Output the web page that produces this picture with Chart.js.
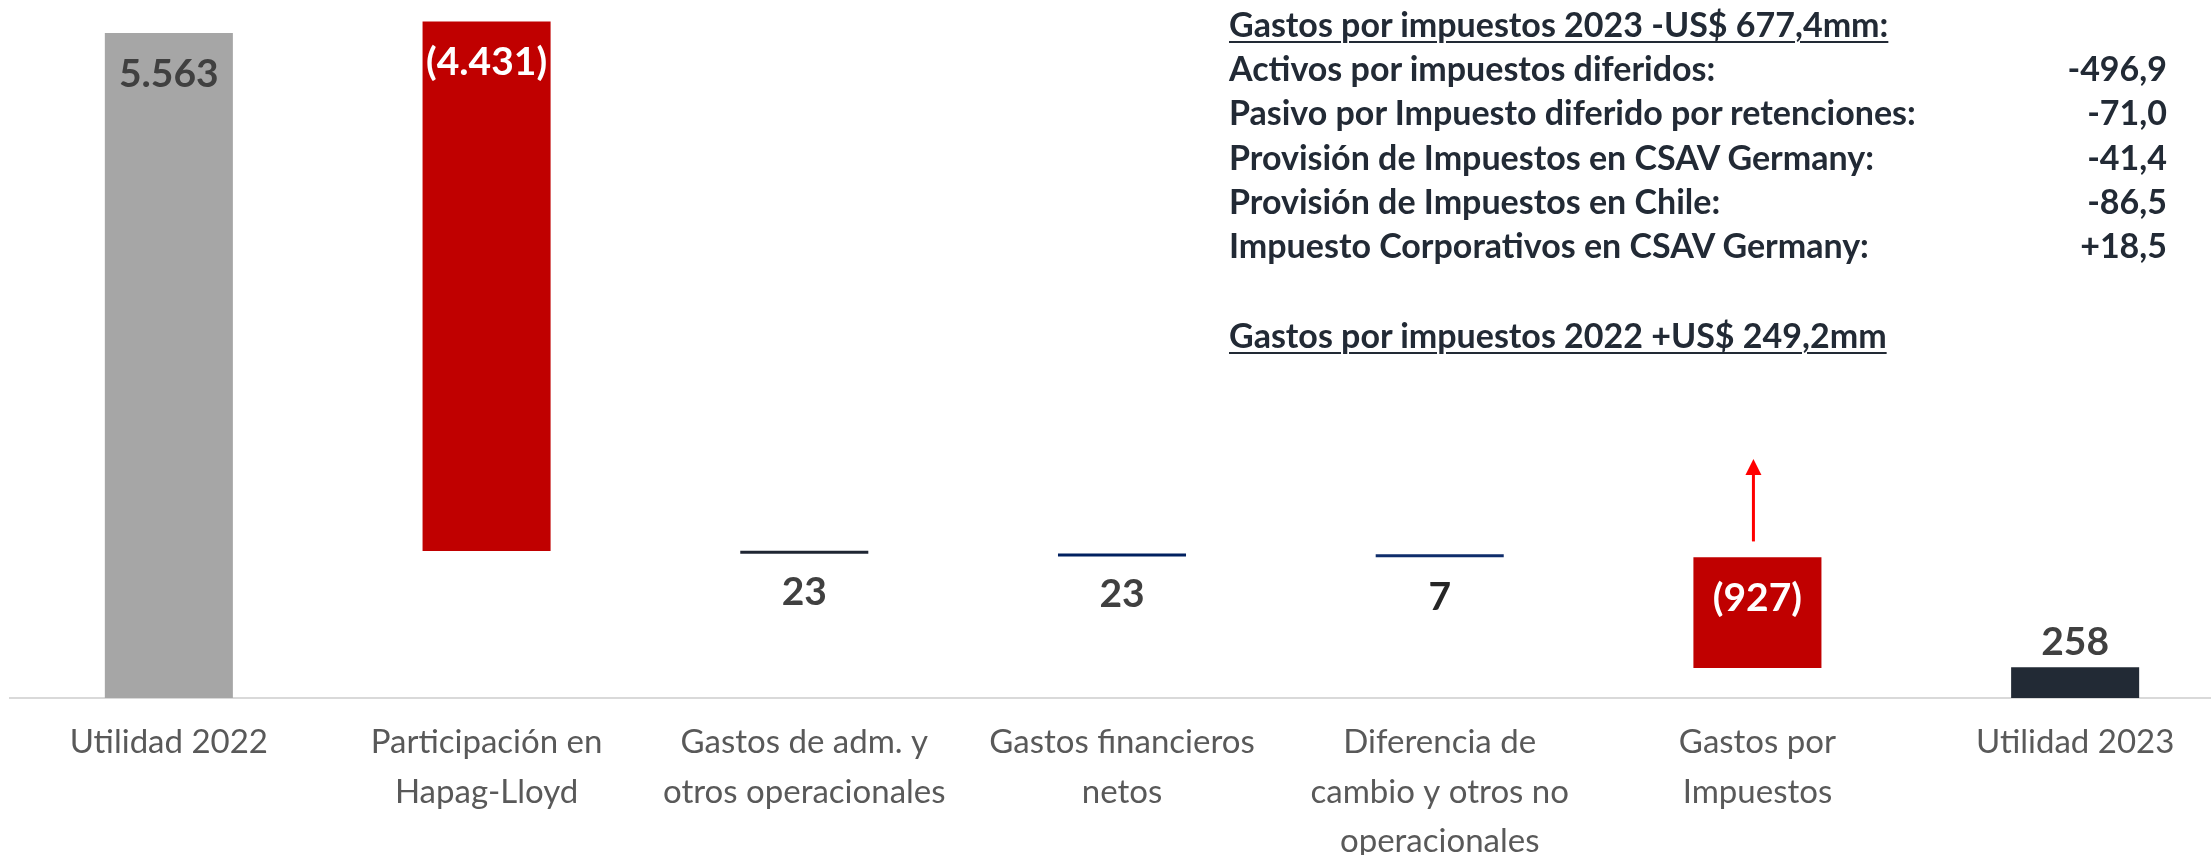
<!DOCTYPE html>
<html>
<head>
<meta charset="utf-8">
<script src="https://cdn.jsdelivr.net/npm/chart.js@4"></script>
<style>
  body { margin: 0; background: #fff; overflow: hidden; width: 2211px; height: 855px; }
  #wrap { position: relative; width: 2234px; height: 855px; }
  .note { position: absolute; left: 1229px; font-family: Lato, sans-serif; font-weight: bold;
          font-size: 34px; color: #222A35; line-height: 40px; white-space: nowrap; }
  .note.u { text-decoration: underline; text-underline-offset: 4px; text-decoration-thickness: 2px; }
  .val { position: absolute; right: 67px; font-family: Lato, sans-serif; font-weight: bold;
         font-size: 34px; color: #222A35; line-height: 40px; }
</style>
</head>
<body>
<div id="wrap">
  <canvas id="waterfall" width="2234" height="855"></canvas>
</div>
<script>
var categories = [
    ['Utilidad 2022'],
    ['Participación en', 'Hapag-Lloyd'],
    ['Gastos de adm. y', 'otros operacionales'],
    ['Gastos financieros', 'netos'],
    ['Diferencia de', 'cambio y otros no', 'operacionales'],
    ['Gastos por', 'Impuestos'],
    ['Utilidad 2023']
];
// floating bar ranges
var barStart = [0, 1230, 1207, 1184, 1177, 250, 0];
var barEnd = [5563, 5661, 1230, 1207, 1184, 1177, 258];
var valueLabels = ['5.563', '(4.431)', '23', '23', '7', '(927)', '258'];
var barColors = ['#A6A6A6', '#C00000', '#1F2633', '#002060', '#0F2D6B', '#C00000', '#222A35'];
var labelColors = ['#404040', '#FFFFFF', '#404040', '#404040', '#262626', '#FFFFFF', '#404040'];

var noteLines = [
    'Activos por impuestos diferidos:',
    'Pasivo por Impuesto diferido por retenciones:',
    'Provisión de Impuestos en CSAV Germany:',
    'Provisión de Impuestos en Chile:',
    'Impuesto Corporativos en CSAV Germany:'
];
var noteValues = ['-496,9', '-71,0', '-41,4', '-86,5', '+18,5'];
var noteTitle2023 = 'Gastos por impuestos 2023 -US$ 677,4mm:';
var noteTitle2022 = 'Gastos por impuestos 2022 +US$ 249,2mm';

// red arrow over the tax bar (value units)
var arrowBar = 5;
var arrowFrom = 1310;
var arrowTo = 2000;

var ranges = [];
for (var i = 0; i < barStart.length; i++) {
    ranges.push([barStart[i], barEnd[i]]);
}

const valueLabelPlugin = {
    id: 'valueLabels',
    afterDatasetsDraw(chart) {
        const ctx = chart.ctx;
        const meta = chart.getDatasetMeta(0);
        const y = chart.scales.y;
        ctx.save();
        ctx.font = 'bold 39px Lato, sans-serif';
        ctx.textAlign = 'center';
        ctx.textBaseline = 'middle';
        meta.data.forEach((bar, i) => {
            var top = y.getPixelForValue(barEnd[i]);
            var ly = (i == barEnd.length - 1) ? top - 25 : top + 41;
            ctx.fillStyle = labelColors[i];
            ctx.fillText(valueLabels[i], bar.x, ly);
        });
        // arrow
        var ax = meta.data[arrowBar].x - 4;
        var y1 = y.getPixelForValue(arrowFrom);
        var y2 = y.getPixelForValue(arrowTo);
        ctx.strokeStyle = '#FF0000';
        ctx.fillStyle = '#FF0000';
        ctx.lineWidth = 3;
        ctx.beginPath();
        ctx.moveTo(ax, y1);
        ctx.lineTo(ax, y2 + 14);
        ctx.stroke();
        ctx.beginPath();
        ctx.moveTo(ax, y2);
        ctx.lineTo(ax - 8, y2 + 16);
        ctx.lineTo(ax + 8, y2 + 16);
        ctx.closePath();
        ctx.fill();
        ctx.restore();
    }
};

new Chart(document.getElementById('waterfall'), {
    type: 'bar',
    data: {
        labels: categories,
        datasets: [{
            data: ranges,
            backgroundColor: barColors,
            borderWidth: 0,
            minBarLength: 3,
            categoryPercentage: 1,
            barPercentage: 0.403
        }]
    },
    options: {
        responsive: false,
        animation: false,
        layout: { padding: { left: 10, right: 0, top: 0, bottom: 0 } },
        plugins: { legend: { display: false }, tooltip: { enabled: false } },
        scales: {
            x: {
                grid: { display: false, drawTicks: false },
                border: { display: true, color: '#D9D9D9', width: 2 },
                ticks: {
                    autoSkip: false,
                    maxRotation: 0,
                    padding: 20,
                    color: '#595959',
                    font: { family: 'Lato, sans-serif', size: 33, lineHeight: 1.5 }
                },
                afterFit: function (scale) { scale.height = 157; }
            },
            y: {
                display: false,
                min: 0,
                max: 5840
            }
        }
    },
    plugins: [valueLabelPlugin]
});

// text box top right
var wrap = document.getElementById('wrap');
function addNote(text, top, cls) {
    var d = document.createElement('div');
    d.className = cls;
    d.style.top = top + 'px';
    d.textContent = text;
    wrap.appendChild(d);
}
addNote(noteTitle2023, 4, 'note u');
for (var k = 0; k < noteLines.length; k++) {
    addNote(noteLines[k], 48 + k * 44.3, 'note');
    addNote(noteValues[k], 48 + k * 44.3, 'val');
}
addNote(noteTitle2022, 315, 'note u');
</script>
</body>
</html>
